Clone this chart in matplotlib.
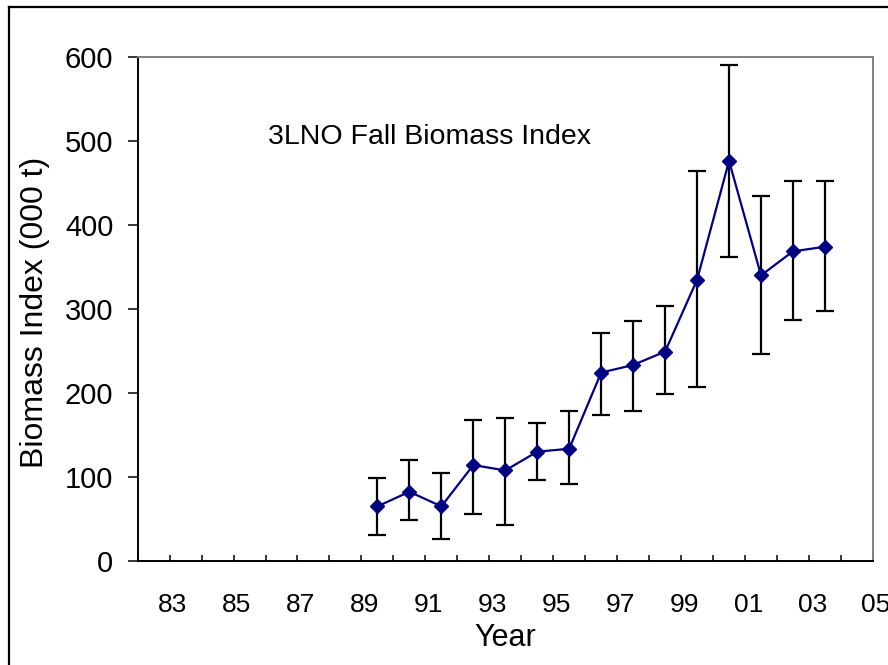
import matplotlib
matplotlib.use("Agg")
import matplotlib.pyplot as plt
from matplotlib.lines import Line2D
from matplotlib.transforms import blended_transform_factory
import numpy as np

plt.rcParams['font.family'] = ['Liberation Sans', 'DejaVu Sans']

# survey years and biomass index (000 t) with upper / lower limits
years = [1990, 1991, 1992, 1993, 1994, 1995, 1996, 1997, 1998, 1999,
         2000, 2001, 2002, 2003, 2004]
index = [64.7, 82.1, 64.7, 113.9, 107.5, 129.8, 133.3, 224.0, 233.0, 249.0,
         334.5, 476.0, 339.7, 368.3, 373.8]
upper = [98.5, 119.4, 105.0, 167.0, 170.0, 164.0, 178.6, 271.4, 285.7, 303.0,
         463.5, 589.7, 433.7, 451.6, 452.4]
lower = [30.6, 48.0, 25.8, 56.0, 43.0, 95.6, 91.3, 173.0, 178.6, 199.0,
         206.3, 362.0, 246.4, 286.0, 296.8]

# category axis runs 1983..2005, labelled every second year
cat_first = 1983
cat_last = 2005
label_years = list(range(1983, 2006, 2))
label_text = ["%02d" % (y % 100) for y in label_years]
y_ticks = [0, 100, 200, 300, 400, 500, 600]

fig = plt.figure(figsize=(8.88, 6.65), dpi=100)
ax = fig.add_axes([0.155, 0.1568, 0.828, 0.7579])

x = np.array(years)
y = np.array(index)
yerr = [y - np.array(lower), np.array(upper) - y]

ax.errorbar(x, y, yerr=yerr, fmt='none', ecolor='black', elinewidth=1.6,
            capsize=6.5, capthick=1.6, zorder=2)
ax.plot(x, y, color='#000080', lw=1.6, marker='D', markersize=7.5,
        markerfacecolor='#000080', markeredgecolor='#000080', zorder=3)

ax.set_xlim(cat_first - 0.5, cat_last + 0.5)
ax.set_ylim(0, 600)
ax.set_yticks(y_ticks)
ax.tick_params(axis='y', direction='out', length=7.5, width=1.1,
               labelsize=21, pad=10)

# tick marks between categories, pointing into the plot
ax.set_xticks(np.arange(cat_first - 0.5, cat_last + 1.0, 1.0))
ax.tick_params(axis='x', direction='in', length=4.5, width=1.1,
               labelbottom=False)

trans = blended_transform_factory(ax.transData, ax.transAxes)
for yr, txt in zip(label_years, label_text):
    ax.text(yr + 0.6, -0.087, txt, transform=trans, ha='center', va='center',
            fontsize=19, clip_on=False)

ax.text(0.5, -0.153, "Year", transform=ax.transAxes, ha='center',
        va='center', fontsize=22)
ax.text(-0.140, 0.492, "Biomass Index (000 t)", transform=ax.transAxes,
        ha='center', va='center', rotation=90, fontsize=23)
ax.text(0.177, 0.841, "3LNO Fall Biomass Index", transform=ax.transAxes,
        ha='left', va='center', fontsize=20.5)

for side in ['left', 'bottom']:
    ax.spines[side].set_color('black')
    ax.spines[side].set_linewidth(1.4)
for side in ['top', 'right']:
    ax.spines[side].set_color('#808080')
    ax.spines[side].set_linewidth(1.4)

# outer chart frame (only left and top edges fall inside the picture)
fx = 8.5 / 888
fy = 1 - 6.5 / 665
fig.add_artist(Line2D([fx, fx], [0, fy], transform=fig.transFigure,
                      color='black', lw=1.6))
fig.add_artist(Line2D([fx, 1], [fy, fy], transform=fig.transFigure,
                      color='black', lw=1.6))

fig.savefig("out.png", dpi=100)
